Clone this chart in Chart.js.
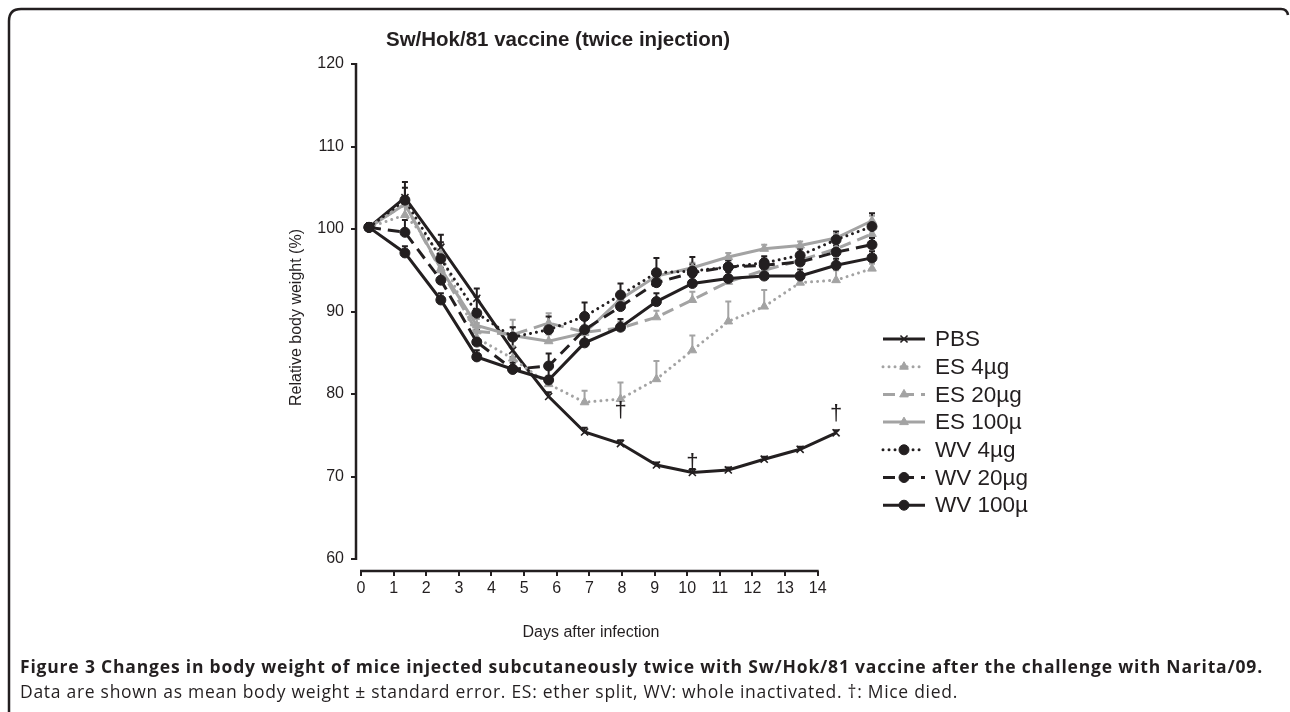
<!DOCTYPE html>
<html><head><meta charset="utf-8">
<script src="https://cdn.jsdelivr.net/npm/chart.js@4.4.0/dist/chart.umd.min.js"></script>
<style>
html,body{margin:0;padding:0;background:#fff;width:1290px;height:712px;overflow:hidden;}
#wrap{position:relative;width:1290px;height:712px;}
#c{position:absolute;left:0;top:0;}
#frame{position:absolute;left:0;top:0;}
#title{position:absolute;left:358px;width:400px;top:29px;text-align:center;font:bold 20.5px "Liberation Sans",Arial,sans-serif;line-height:1;color:#231f20;white-space:nowrap;}
#xtitle{position:absolute;left:441px;width:300px;top:624px;text-align:center;font:16px "Liberation Sans",Arial,sans-serif;line-height:1;color:#231f20;white-space:nowrap;}
.cap{position:absolute;left:20px;color:#231f20;font-family:"Open Sans",sans-serif;white-space:nowrap;line-height:1;font-size:17.5px;}
</style></head>
<body><div id="wrap">
<svg id="frame" width="1290" height="712"><path d="M9 712 L9 21 Q9 9 21 9 L1281 9 Q1287 9 1288 15" fill="none" stroke="#231f20" stroke-width="2.5"/></svg>
<canvas id="c" width="1290" height="712"></canvas>
<div id="title">Sw/Hok/81 vaccine (twice injection)</div>
<div id="xtitle">Days after infection</div>
<span class="cap" id="cap1" style="top:658px;font-weight:bold;">Figure 3 Changes in body weight of mice injected subcutaneously twice with Sw/Hok/81 vaccine after the challenge with Narita/09.</span>
<span class="cap" id="cap2" style="top:682.5px;">Data are shown as mean body weight ± standard error. ES: ether split, WV: whole inactivated. †: Mice died.</span>
</div>
<script>
// ---- data ----
const days = [0,1,2,3,4,5,6,7,8,9,10,11,12,13,14];
const yTicks = [60,70,80,90,100,110,120];
const seriesNames = ['PBS','ES 4µg','ES 20µg','ES 100µ','WV 4µg','WV 20µg','WV 100µ'];
const pbs   = [100.2,103.8,97.8,91.6,85.3,79.7,75.4,74.0,71.4,70.5,70.8,72.1,73.3,75.3];
const es4   = [100.2,101.7,97.0,86.8,84.3,81.2,79.0,79.4,81.8,85.3,88.8,90.6,93.5,93.8,95.2];
const es20  = [100.2,103.0,95.0,87.6,87.2,88.6,87.5,88.0,89.3,91.4,93.6,95.0,96.2,97.6,99.4];
const es100 = [100.2,103.0,95.2,88.3,87.1,86.4,87.4,91.5,94.3,95.3,96.6,97.6,98.0,98.9,101.0];
const wv4   = [100.2,103.5,96.4,89.8,86.9,87.8,89.4,92.0,94.7,94.9,95.4,95.9,96.8,98.7,100.3];
const wv20  = [100.2,99.6,93.8,86.3,83.0,83.4,87.8,90.6,93.5,94.7,95.4,95.6,96.0,97.2,98.1];
const wv100 = [100.2,97.1,91.4,84.5,83.0,81.7,86.2,88.1,91.2,93.4,94.0,94.3,94.3,95.6,96.5];
const pbsErr   = [0.4,1.2,1.5,1.2,1.5,0.5,0.5,0.4,0.3,0.4,0.3,0.3,0.3,0.3];
const es4Err   = [0.5,1.5,1.0,1.0,1.5,1.0,1.4,2.0,2.2,1.8,2.4,2.0,0.6,1.2,0.6];
const es20Err  = [0.5,1.0,1.0,1.0,1.8,1.2,0.8,0.8,0.8,1.0,0.8,0.8,0.6,0.8,0.8];
const es100Err = [0.4,1.0,0.8,0.8,1.0,0.8,0.8,0.8,0.6,0.6,0.5,0.5,0.5,0.5,0.6];
const wv4Err   = [0.5,2.2,2.0,2.0,1.2,1.6,1.7,1.4,1.8,1.7,0.8,0.8,0.8,1.0,1.6];
const wv20Err  = [0.5,1.5,1.5,1.5,1.5,1.5,1.2,1.2,1.0,1.0,0.8,0.8,0.8,0.8,0.8];
const wv100Err = [0.4,0.8,0.8,0.8,0.8,1.5,1.0,1.0,1.0,0.8,0.8,0.8,0.8,0.8,0.8];
const daggerDays   = [7, 9, 13];
const daggerValues = [78.0, 71.6, 77.6];

// ---- styles ----
const BLACK = '#231f20', GRAY = '#a3a3a3';
const FONT = '"Liberation Sans", Arial, sans-serif';
const values = [pbs, es4, es20, es100, wv4, wv20, wv100];
const errors = [pbsErr, es4Err, es20Err, es100Err, wv4Err, wv20Err, wv100Err];
const styles = [
  {color: BLACK, dash: [], cap: 'butt', point: 'crossRot', r: 5, pbw: 1.6},
  {color: GRAY, dash: [0.01, 6], cap: 'round', point: 'triangle', r: 5, pbw: 1},
  {color: GRAY, dash: [12, 7], cap: 'butt', point: 'triangle', r: 5, pbw: 1},
  {color: GRAY, dash: [], cap: 'butt', point: 'triangle', r: 5, pbw: 1},
  {color: BLACK, dash: [0.01, 6], cap: 'round', point: 'circle', r: 5, pbw: 1},
  {color: BLACK, dash: [12, 7], cap: 'butt', point: 'circle', r: 5, pbw: 1},
  {color: BLACK, dash: [], cap: 'butt', point: 'circle', r: 5, pbw: 1}
];

const datasets = seriesNames.map((name, i) => ({
  label: name,
  data: values[i].map((v, j) => ({x: days[j], y: v})),
  xAxisID: 'x', yAxisID: 'y',
  borderColor: styles[i].color,
  backgroundColor: styles[i].color,
  borderWidth: 3,
  borderDash: styles[i].dash,
  borderCapStyle: styles[i].cap,
  pointStyle: styles[i].point,
  pointRadius: styles[i].r,
  pointBackgroundColor: styles[i].color,
  pointBorderColor: styles[i].color,
  pointBorderWidth: styles[i].pbw,
  tension: 0,
  clip: false,
  order: 7 - i
}));

const errorBars = {
  id: 'errorBars',
  beforeDatasetsDraw(chart) {
    const ctx = chart.ctx, xs = chart.scales.x, ys = chart.scales.y;
    ctx.save();
    ctx.lineWidth = 2;
    ctx.setLineDash([]);
    values.forEach((vals, i) => {
      ctx.strokeStyle = styles[i].color;
      vals.forEach((v, j) => {
        const x = xs.getPixelForValue(days[j]);
        const y0 = ys.getPixelForValue(v);
        const y1 = ys.getPixelForValue(v + errors[i][j]);
        ctx.beginPath();
        ctx.moveTo(x, y0); ctx.lineTo(x, y1);
        ctx.moveTo(x - 3, y1); ctx.lineTo(x + 3, y1);
        ctx.stroke();
      });
    });
    ctx.restore();
  }
};

const axisLines = {
  id: 'axisLines',
  afterDraw(chart) {
    const ctx = chart.ctx, ys = chart.scales.y, x2 = chart.scales.x2, a = chart.chartArea;
    ctx.save();
    ctx.strokeStyle = BLACK; ctx.lineWidth = 2.5; ctx.setLineDash([]);
    ctx.beginPath();
    ctx.moveTo(a.left, ys.getPixelForValue(yTicks[0]) + 1);
    ctx.lineTo(a.left, ys.getPixelForValue(yTicks[yTicks.length - 1]) - 1);
    ctx.moveTo(x2.getPixelForValue(days[0]) - 1, a.bottom);
    ctx.lineTo(x2.getPixelForValue(days[days.length - 1]) + 1, a.bottom);
    ctx.stroke();
    // daggers
    const xs = chart.scales.x;
    ctx.fillStyle = BLACK;
    ctx.font = '22px ' + FONT;
    ctx.textAlign = 'center'; ctx.textBaseline = 'middle';
    daggerDays.forEach((d, k) => {
      ctx.fillText('†', xs.getPixelForValue(d), ys.getPixelForValue(daggerValues[k]));
    });
    // legend
    const lx0 = 883, lx1 = 925, tx = 935, ly0 = 339, step = 27.7;
    ctx.textAlign = 'left';
    ctx.font = '22.5px ' + FONT;
    seriesNames.forEach((name, i) => {
      const y = ly0 + i * step, s = styles[i];
      ctx.strokeStyle = s.color; ctx.lineWidth = 3; ctx.lineCap = s.cap;
      ctx.setLineDash(s.dash);
      ctx.beginPath(); ctx.moveTo(lx0, y); ctx.lineTo(lx1, y); ctx.stroke();
      ctx.setLineDash([]); ctx.lineCap = 'butt';
      ctx.fillStyle = s.color; ctx.strokeStyle = s.color; ctx.lineWidth = s.pbw;
      Chart.helpers.drawPoint(ctx, {pointStyle: s.point, radius: s.r, borderWidth: s.pbw, rotation: 0}, (lx0 + lx1) / 2, y);
      ctx.fillStyle = BLACK;
      ctx.fillText(name, tx, y + 1);
    });
    ctx.restore();
  }
};

new Chart(document.getElementById('c'), {
  type: 'line',
  data: {datasets},
  options: {
    responsive: false,
    animation: false,
    events: [],
    layout: {padding: {left: 287, top: 64, right: 410, bottom: 71}},
    plugins: {legend: {display: false}, title: {display: false}, tooltip: {enabled: false}},
    scales: {
      x: {type: 'linear', axis: 'x', display: false, min: -0.3618, max: 14.2226},
      x2: {
        type: 'linear', axis: 'x', position: 'bottom', min: -0.1533, max: 15.91,
        afterBuildTicks: s => { s.ticks = days.map(d => ({value: d})); },
        afterFit: s => { s.height = 70; },
        border: {display: false},
        grid: {drawOnChartArea: false, drawTicks: true, tickLength: 5, color: BLACK, lineWidth: 2},
        ticks: {font: {family: FONT, size: 16}, color: BLACK, padding: 3, maxRotation: 0, autoSkip: false},
        title: {display: false}
      },
      y: {
        type: 'linear', position: 'left', min: 58.55, max: 120,
        afterBuildTicks: s => { s.ticks = yTicks.map(v => ({value: v})); },
        afterFit: s => { s.width = 69; },
        border: {display: false},
        grid: {drawOnChartArea: false, drawTicks: true, tickLength: 5, color: BLACK, lineWidth: 2},
        ticks: {font: {family: FONT, size: 16}, color: BLACK, padding: 7},
        title: {display: true, text: 'Relative body weight (%)', font: {family: FONT, size: 16}, color: BLACK, padding: 0}
      }
    }
  },
  plugins: [errorBars, axisLines]
});

function fitWidth(el, target) {
  el.style.letterSpacing = '0px';
  const w = el.getBoundingClientRect().width;
  const n = el.textContent.length;
  el.style.letterSpacing = ((target - w) / n) + 'px';
}
fitWidth(document.getElementById('cap1'), 1243);
fitWidth(document.getElementById('cap2'), 938);
</script>
</body></html>
